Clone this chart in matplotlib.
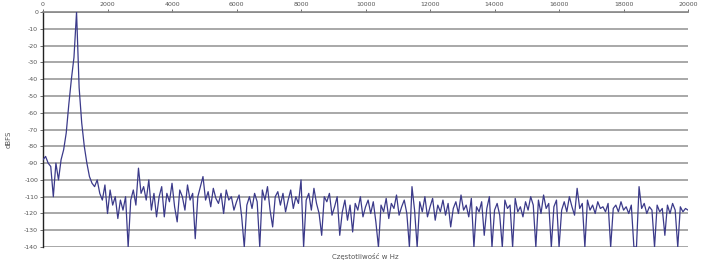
import numpy as np
import matplotlib
matplotlib.use('Agg')
import matplotlib.pyplot as plt

plt.rcParams['axes.unicode_minus'] = False
plt.rcParams['font.family'] = ['DejaVu Sans']

# spectrum, one value every 80 Hz (0 .. 20000 Hz)
freq_step = 80
level_db = [
    -88, -86, -90, -92, -110, -90, -100, -88, -82, -72,
    -55, -40, -27, 0, -45, -66, -80, -90, -98, -102,
    -104, -100, -108, -112, -103, -120, -106, -115, -110, -123,
    -112, -118, -110, -140, -112, -106, -115, -93, -108, -104,
    -112, -100, -118, -108, -122, -110, -104, -122, -108, -113,
    -102, -116, -125, -106, -110, -118, -103, -112, -108, -135,
    -110, -104, -98, -112, -107, -116, -105, -111, -114, -108,
    -120, -106, -112, -110, -118, -113, -109, -122, -140, -115,
    -110, -117, -108, -113, -140, -106, -112, -104, -118, -128,
    -110, -107, -115, -108, -119, -112, -106, -117, -110, -114,
    -100, -140, -112, -108, -118, -105, -114, -120, -133, -110,
    -113, -108, -121, -116, -110, -133, -119, -112, -124, -115,
    -131, -114, -118, -110, -122, -116, -112, -120, -113, -125,
    -140, -115, -119, -111, -123, -114, -117, -109, -121, -116,
    -112, -120, -140, -104, -118, -140, -113, -119, -110, -122,
    -116, -111, -124, -115, -119, -112, -121, -114, -128, -117,
    -113, -120, -109, -118, -115, -122, -111, -140, -116, -119,
    -113, -133, -117, -110, -140, -118, -114, -121, -140, -112,
    -117, -115, -140, -111, -119, -116, -122, -113, -118, -110,
    -115, -140, -112, -120, -109, -117, -114, -140, -116, -112,
    -140, -118, -113, -119, -110, -116, -121, -105, -117, -114,
    -140, -112, -118, -115, -120, -113, -117, -116, -119, -114,
    -140, -117, -115, -119, -113, -118, -116, -120, -115, -140,
    -140, -104, -117, -114, -120, -116, -118, -140, -115, -119,
    -117, -133, -115, -120, -114, -118, -140, -116, -119, -117,
    -118,
]
freq_hz = np.arange(len(level_db)) * freq_step

x_ticks = list(range(0, 20001, 2000))
y_ticks = list(range(0, -141, -10))

fig = plt.figure(figsize=(7.05, 2.62), dpi=100)
ax = fig.add_axes([0.061, 0.057, 0.915, 0.897])

for y in y_ticks:
    ax.axhline(y, color='#a8a8a8', lw=1.4, zorder=1)

ax.plot(freq_hz, level_db, color='#3b3a8a', lw=0.9, zorder=3)

ax.set_xlim(0, 20000)
ax.set_ylim(-140, 0)
ax.xaxis.tick_top()
ax.set_xticks(x_ticks)
ax.set_xticklabels([str(v) for v in x_ticks])
ax.set_yticks(y_ticks)
ax.set_yticklabels([str(v) for v in y_ticks])
ax.tick_params(axis='both', labelsize=4.5, colors='#555555', length=2, width=0.6, pad=1.5)

for side in ['right', 'bottom']:
    ax.spines[side].set_visible(False)
ax.spines['top'].set_color('#888888')
ax.spines['top'].set_linewidth(1.2)
ax.spines['left'].set_color('#222222')
ax.spines['left'].set_linewidth(1.0)

fig.text(0.012, 0.47, 'dBFS', rotation=90, fontsize=5, color='#555555', ha='center', va='center')
fig.text(0.518, 0.02, 'Częstotliwość w Hz', fontsize=5, color='#555555', ha='center', va='center')

fig.savefig('out.png', dpi=100)
